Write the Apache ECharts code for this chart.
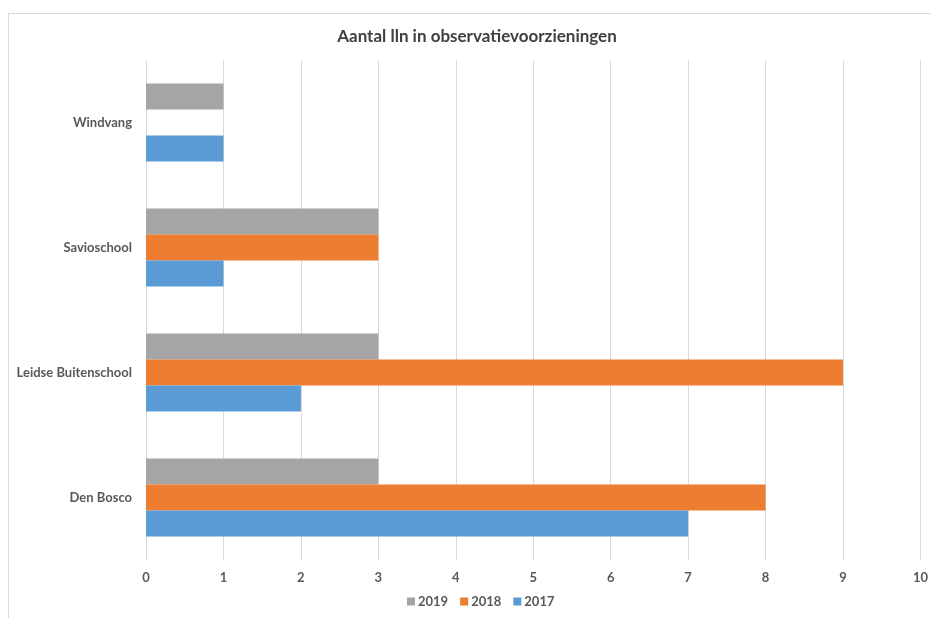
<!DOCTYPE html>
<html><head><meta charset="utf-8">
<script src="https://cdn.jsdelivr.net/npm/echarts@6/dist/echarts.min.js"></script>
<style>html,body{margin:0;padding:0;background:#fff}#c{width:931px;height:618px}</style>
</head><body><div id="c"></div>
<script>
const categories = ['Den Bosco', 'Leidse Buitenschool', 'Savioschool', 'Windvang'];
const values2017 = [7, 2, 1, 1];
const values2018 = [8, 9, 3, 0];
const values2019 = [3, 3, 3, 1];
const xTicks = { min: 0, max: 10, interval: 1 };
const chartTitle = 'Aantal lln in observatievoorzieningen';

const font = 'Lato';
const chart = echarts.init(document.getElementById('c'));
chart.setOption({
  animation: false,
  title: { text: chartTitle, left: 472, top: 23, textAlign: 'center',
    textStyle: { fontFamily: font, fontSize: 17, fontWeight: 'bold', color: '#404040' } },
  graphic: [{ type: 'rect', shape: { x: 8.5, y: 13.5, width: 1000, height: 1000 },
    style: { fill: 'none', stroke: '#d9d9d9', lineWidth: 1 }, silent: true, z: -1 }],
  legend: { data: ['2019', '2018', '2017'], bottom: 5, left: 402, itemWidth: 8, itemHeight: 8,
    itemGap: 12, icon: 'rect',
    textStyle: { fontFamily: font, fontSize: 13, fontWeight: 'bold', color: '#595959', padding: [0, 0, 0, -2] } },
  grid: { left: 146, right: 9, top: 60, bottom: 58, containLabel: false },
  xAxis: { type: 'value', min: xTicks.min, max: xTicks.max, interval: xTicks.interval,
    axisLine: { show: false }, axisTick: { show: false },
    splitLine: { lineStyle: { color: '#d9d9d9' } },
    axisLabel: { fontFamily: font, fontSize: 13, fontWeight: 'bold', color: '#595959', margin: 11 } },
  yAxis: { type: 'category', data: categories,
    axisLine: { show: false }, axisTick: { show: false },
    axisLabel: { fontFamily: font, fontSize: 13, fontWeight: 'bold', color: '#595959', margin: 14 } },
  series: [
    { name: '2019', type: 'bar', data: values2019, itemStyle: { color: '#a5a5a5' }, barGap: '0%', barCategoryGap: '37.6%' },
    { name: '2018', type: 'bar', data: values2018, itemStyle: { color: '#ed7d31' }, barGap: '0%', barCategoryGap: '37.6%' },
    { name: '2017', type: 'bar', data: values2017, itemStyle: { color: '#5b9bd5' }, barGap: '0%', barCategoryGap: '37.6%' }
  ]
});
</script></body></html>
